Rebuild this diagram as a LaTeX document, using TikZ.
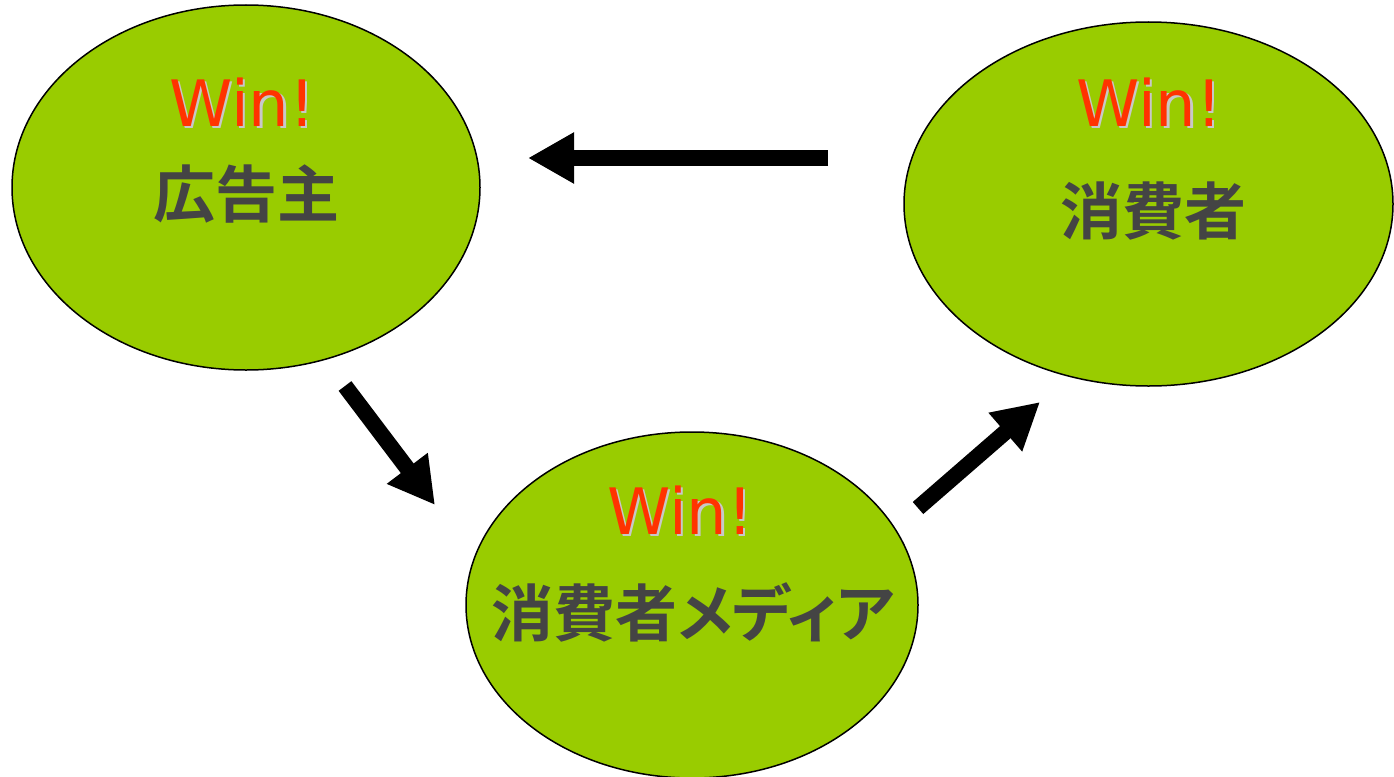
\documentclass[tikz,border=0pt]{standalone}
\usepackage{fontspec}
\setmainfont{DejaVu Sans}
\newfontfamily\cjk{Noto Sans CJK JP}[BoldFont={* Bold}, RawFeature=+palt]
\usetikzlibrary{shapes.geometric,arrows.meta}
\definecolor{leaf}{HTML}{99CC00}
\definecolor{winred}{HTML}{FF3300}
\definecolor{shade}{HTML}{C8C8C8}
\definecolor{ink}{HTML}{444444}
\tikzset{
  blob/.style={ellipse, draw=black, line width=1.5pt, fill=leaf, inner sep=0pt},
  wintext/.style={font=\fontsize{64}{64}\selectfont, text=winred, inner sep=0pt},
  winshadow/.style={font=\fontsize{64}{64}\selectfont, text=shade, inner sep=0pt},
  jptext/.style={font=\fontsize{62}{62}\selectfont\cjk\bfseries, text=ink, inner sep=0pt},
  bigarrow/.style={line width=16pt, draw=black, -{Triangle[width=48pt,length=46pt]}}
}
\begin{document}
\begin{tikzpicture}[x=1pt,y=-1pt]
\useasboundingbox (0,0) rectangle (1394,776);
\fill[white] (0,0) rectangle (1394,776);
% ellipses
\node[blob, minimum width=468pt, minimum height=365pt] (adv) at (246,187.5) {};
\node[blob, minimum width=489pt, minimum height=364pt] (con) at (1148.5,204) {};
\node[blob, minimum width=452pt, minimum height=346pt] (med) at (692,605) {};
% Win! labels with shadow
\node[winshadow] (advws) at (244.5,104.5) {Win!};
\node[wintext] (advw) at (242,102) {Win!};
\node[winshadow] (conws) at (1151.5,104.5) {Win!};
\node[wintext] (conw) at (1149,102) {Win!};
\node[winshadow] (medws) at (682.5,512.5) {Win!};
\node[wintext] (medw) at (680,510) {Win!};
% Japanese labels
\node[jptext] (advt) at (246,194) {広告主};
\node[jptext] (cont) at (1153,211) {消費者};
\node[jptext] (medt) at (693,612) {消費者メディア};
% arrows
\coordinate (a1s) at (828,158);
\coordinate (a1e) at (528,158);
\coordinate (a2s) at (345,386);
\coordinate (a2e) at (435,505);
\coordinate (a3s) at (918,508);
\coordinate (a3e) at (1040,402);
\draw[bigarrow, line cap=butt] (a1s) -- (a1e);
\draw[bigarrow, line cap=butt] (a2s) -- (a2e);
\draw[bigarrow, line cap=butt] (a3s) -- (a3e);
\end{tikzpicture}
\end{document}
